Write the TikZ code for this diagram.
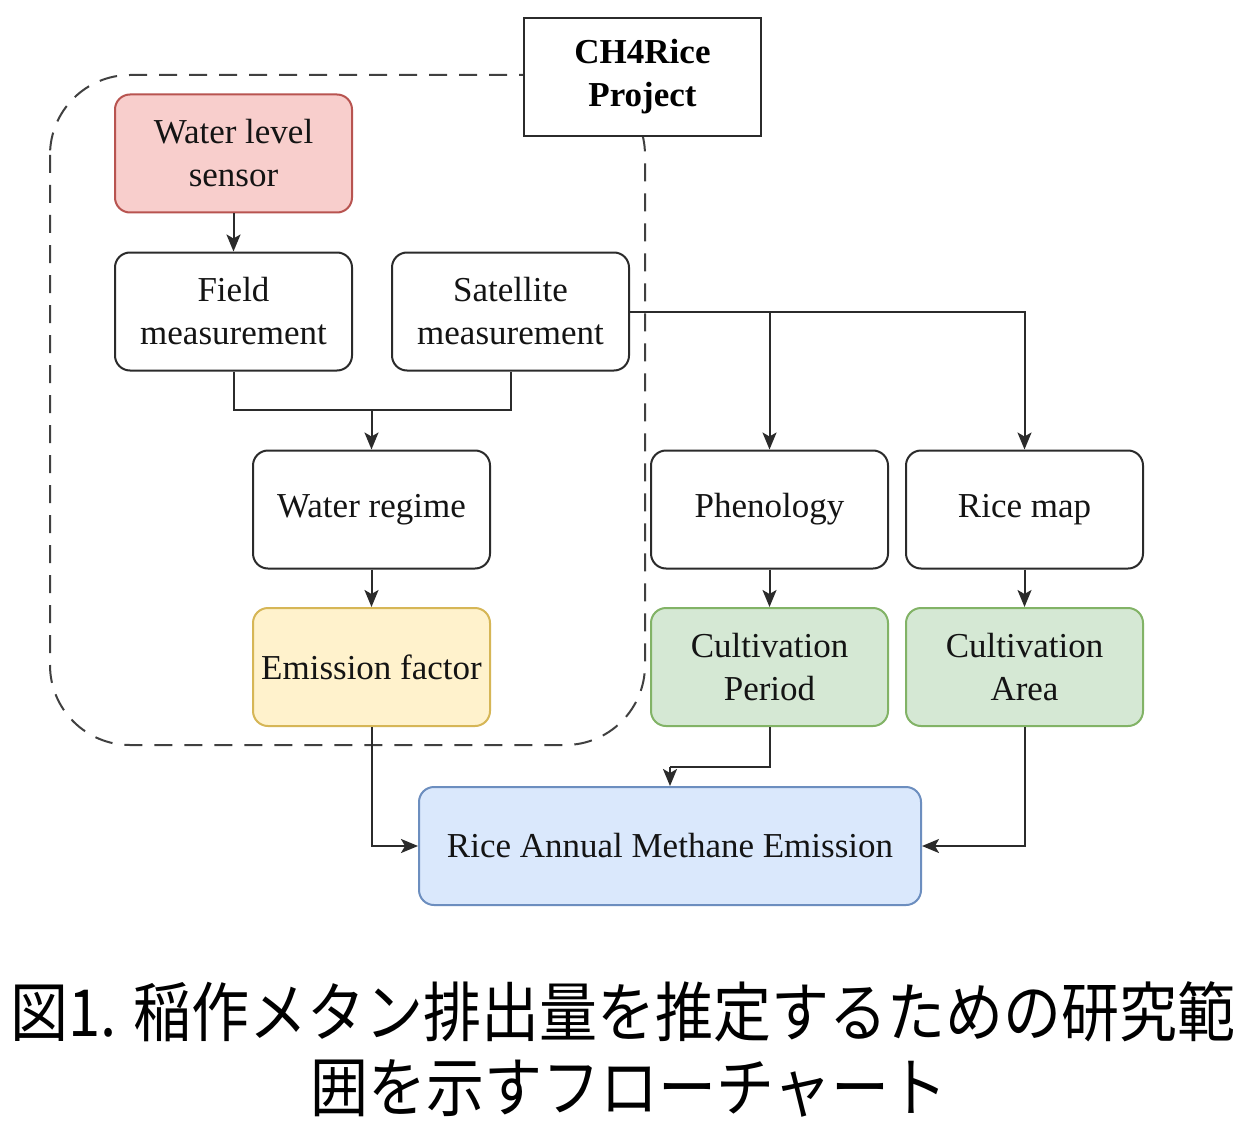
\documentclass[tikz,border=0pt]{standalone}
\usepackage{fontspec}
\usepackage{graphicx}
\setmainfont{Liberation Serif}
\newfontfamily\cjk{Noto Sans CJK JP}
\usetikzlibrary{arrows.meta}
\definecolor{lineclr}{HTML}{2B2B2B}
\definecolor{redfill}{HTML}{F8CECC}\definecolor{redline}{HTML}{B85450}
\definecolor{yelfill}{HTML}{FFF2CC}\definecolor{yelline}{HTML}{D6B656}
\definecolor{grnfill}{HTML}{D5E8D4}\definecolor{grnline}{HTML}{82B366}
\definecolor{blufill}{HTML}{DAE8FC}\definecolor{bluline}{HTML}{6C8EBF}
\tikzset{
  stdbox/.style={draw=lineclr, fill=white, rounded corners=7.5pt, line width=1pt,
    minimum width=118.5pt, minimum height=59pt, align=center, inner sep=2pt,
    text=black!92, font=\fontsize{17.5}{21.5}\selectfont},
  redbox/.style={stdbox, draw=redline, fill=redfill},
  yelbox/.style={stdbox, draw=yelline, fill=yelfill},
  grnbox/.style={stdbox, draw=grnline, fill=grnfill},
  blubox/.style={stdbox, draw=bluline, fill=blufill},
  conn/.style={draw=lineclr, line width=1pt},
  arr/.style={conn, -{Stealth[length=8.5pt,width=7pt,inset=2pt]}},
  dashbox/.style={draw=lineclr!90, line width=1pt, dash pattern=on 9pt off 6pt, rounded corners=40pt},
  captxt/.style={font=\cjk\fontsize{29}{34}\selectfont, inner sep=0pt}
}
\begin{document}
\begin{tikzpicture}[x=0.5pt,y=-0.5pt]
\useasboundingbox (0,0) rectangle (1246,1123);
\fill[white] (0,0) rectangle (1246,1123);
% dashed scope region
\draw[dashbox] (50,75) rectangle (645,745);
% project box
\node[draw=lineclr, fill=white, line width=1pt, minimum width=118.5pt, minimum height=59pt,
  align=center, font=\fontsize{17.5}{21.5}\selectfont\bfseries] (proj) at (642.5,77) {CH4Rice\\Project};
% nodes
\node[redbox] (sensor) at (233.5,153.5) {Water level\\sensor};
\node[stdbox] (field) at (233.5,311.5) {Field\\measurement};
\node[stdbox] (sat) at (510.5,311.5) {Satellite\\measurement};
\node[stdbox] (regime) at (371.5,509.5) {Water regime};
\node[yelbox] (ef) at (371.5,667) {Emission factor};
\node[stdbox] (pheno) at (769.5,509.5) {Phenology};
\node[stdbox] (ricemap) at (1024.5,509.5) {Rice map};
\node[grnbox] (cp) at (769.5,667) {Cultivation\\Period};
\node[grnbox] (ca) at (1024.5,667) {Cultivation\\Area};
\node[blubox, minimum width=251pt] (rame) at (670,846) {Rice Annual Methane Emission};
% connectors
\draw[arr] (sensor) -- (field);
\coordinate (j1) at (371.5,410);
\draw[conn] (field.south) |- (j1);
\draw[conn] (sat.south) |- (j1);
\draw[arr] (j1) -- (regime.north);
\draw[arr] (regime) -- (ef);
\draw[arr] (sat.east) -| (pheno.north);
\draw[arr] (sat.east) -| (ricemap.north);
\draw[arr] (pheno) -- (cp);
\draw[arr] (ricemap) -- (ca);
\draw[arr] (ef.south) |- (rame.west);
\coordinate (j2) at (670,767);
\draw[conn] (cp.south) |- (j2);
\draw[arr] (j2) -- (rame.north);
\draw[arr] (ca.south) |- (rame.east);
% caption
\node[captxt] (cap1) at (623,1012) {\scalebox{1}[1.12]{図1. 稲作メタン排出量を推定するための研究範}};
\node[captxt] (cap2) at (629,1088) {\scalebox{1}[1.12]{囲を示すフローチャート}};
\end{tikzpicture}
\end{document}
